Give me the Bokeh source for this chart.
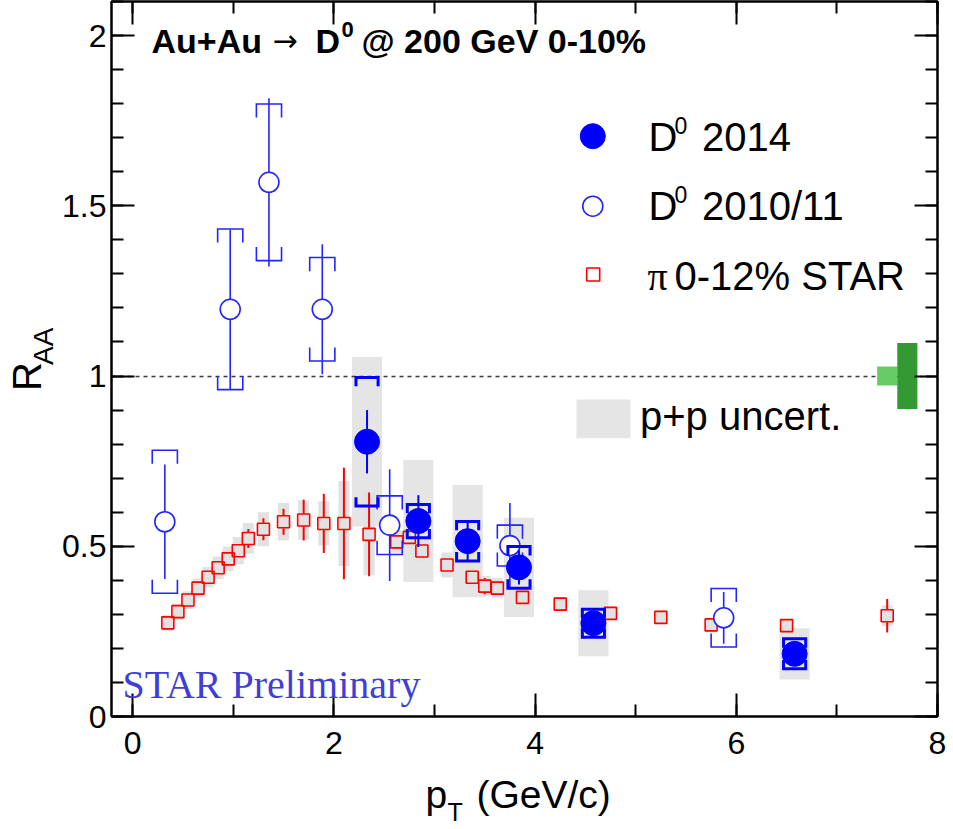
import math
import numpy as np
from bokeh.plotting import figure
from bokeh.layouts import row, column
from bokeh.models import (Range1d, LinearAxis, FixedTicker, Label,
                          CustomJSTickFormatter)
from bokeh.embed import file_html
from bokeh.resources import INLINE

# ---------------- data ----------------
# pi 0-12% STAR
pi_pt = [0.35, 0.45, 0.55, 0.65, 0.75, 0.85, 0.95, 1.05, 1.15, 1.3, 1.5, 1.7,
         1.9, 2.1, 2.35, 2.625, 2.75, 2.875, 3.125, 3.375, 3.5, 3.625, 3.875,
         4.25, 4.75, 5.25, 5.75, 6.5, 7.5]
pi_raa = [0.275, 0.308, 0.342, 0.377, 0.409, 0.437, 0.463, 0.487, 0.523, 0.550,
          0.572, 0.577, 0.567, 0.567, 0.535, 0.513, 0.526, 0.486, 0.445, 0.409,
          0.383, 0.377, 0.350, 0.330, 0.303, 0.291, 0.269, 0.267, 0.296]
pi_stat = [0.004, 0.004, 0.005, 0.005, 0.006, 0.006, 0.007, 0.010, 0.028, 0.032,
           0.038, 0.060, 0.087, 0.164, 0.123, 0.010, 0.010, 0.010, 0.010, 0.010,
           0.024, 0.010, 0.008, 0.008, 0.010, 0.010, 0.010, 0.017, 0.049]
pi_sys = [0.023, 0.024, 0.026, 0.028, 0.030, 0.033, 0.036, 0.040, 0.045, 0.050,
          0.055, 0.058, 0.065, 0.125, 0.120, 0.032, 0.030, 0.030, 0.037, 0.030,
          0.030, 0.030, 0.020, 0.020, 0.020, 0.020, 0.020, 0.020, 0.030]

# D0 2014
d14_pt = [2.33, 2.84, 3.33, 3.84, 4.58, 6.58]
d14_raa = [0.807, 0.574, 0.515, 0.438, 0.274, 0.184]
d14_stat = [0.093, 0.076, 0.060, 0.050, 0.030, 0.030]
d14_sys = [0.189, 0.049, 0.058, 0.061, 0.041, 0.044]
d14_pp = [0.249, 0.179, 0.165, 0.146, 0.097, 0.075]

# D0 2010/11
d11_pt = [0.32, 0.97, 1.355, 1.885, 2.555, 3.75, 5.875]
d11_raa = [0.572, 1.196, 1.569, 1.196, 0.562, 0.502, 0.290]
d11_stat = [0.168, 0.234, 0.247, 0.191, 0.164, 0.125, 0.076]
d11_sys = [0.210, 0.236, 0.230, 0.152, 0.086, 0.060, 0.086]

# normalisation uncertainties (Au+Au, p+p)
norm_auau = [0.028]
norm_pp = [0.097]

x_ticks = [0, 2, 4, 6, 8]
x_ticklabels = ["0", "2", "4", "6", "8"]
y_ticks = [0, 0.5, 1, 1.5, 2]
y_ticklabels = ["0", "0.5", "1", "1.5", "2"]

# ---------------- layout constants (page pixels) ----------------
W, H = 953, 829
LEFT_W = 58          # strip holding the y-axis title
BOTTOM_H = 60        # strip holding the x-axis title
FRAME_L, FRAME_R, FRAME_T, FRAME_B = 111, 937, 1, 716
X0, X1 = -0.21, 8.0
Y0, Y1 = 0.0, 2.1
BASE_K = 0.36        # Label baseline correction (fraction of font size)
ROT_SHIFT = 31       # correction along the reading direction of rotated labels

main_w = W - LEFT_W
main_h = H - BOTTOM_H

p = figure(width=main_w, height=main_h, output_backend="svg",
           toolbar_location=None,
           x_range=Range1d(X0, X1), y_range=Range1d(Y0, Y1),
           min_border_left=FRAME_L - LEFT_W, min_border_right=W - FRAME_R,
           min_border_top=FRAME_T, min_border_bottom=main_h - FRAME_B,
           x_axis_type=None, y_axis_type=None)
p.xgrid.visible = False
p.ygrid.visible = False
p.outline_line_color = "black"
p.outline_line_width = 2
p.background_fill_color = "white"
p.border_fill_color = "white"

x_minor = [float(i) for i in range(0, 9)]
y_minor = [round(0.1 * i, 1) for i in range(0, 22)]

def style_axis(ax, labels):
    ax.major_tick_in = 23
    ax.major_tick_out = 0
    ax.minor_tick_in = 12
    ax.minor_tick_out = 0
    ax.axis_line_width = 2
    ax.major_tick_line_width = 2
    ax.minor_tick_line_width = 2
    ax.axis_line_color = "black"
    ax.major_tick_line_color = "black"
    ax.minor_tick_line_color = "black"
    if labels:
        ax.major_label_text_font = "Liberation Sans"
        ax.major_label_text_font_size = "32px"
        ax.major_label_text_color = "black"
    else:
        ax.formatter = CustomJSTickFormatter(code="return ''")
        ax.major_label_text_font_size = "1px"
        ax.major_label_standoff = 0

xb = LinearAxis(ticker=FixedTicker(ticks=x_ticks, minor_ticks=x_minor))
style_axis(xb, True)
xb.major_label_overrides = {float(t): l for t, l in zip(x_ticks, x_ticklabels)}
xb.major_label_standoff = 15
p.add_layout(xb, "below")

yl = LinearAxis(ticker=FixedTicker(ticks=y_ticks, minor_ticks=y_minor))
style_axis(yl, True)
yl.major_label_overrides = {float(t): l for t, l in zip(y_ticks, y_ticklabels)}
yl.major_label_standoff = 5
p.add_layout(yl, "left")

xt = LinearAxis(ticker=FixedTicker(ticks=x_ticks, minor_ticks=x_minor))
style_axis(xt, False)
p.add_layout(xt, "above")

yr = LinearAxis(ticker=FixedTicker(ticks=y_ticks, minor_ticks=y_minor))
style_axis(yr, False)
p.add_layout(yr, "right")

# ---------------- helpers ----------------
XS = (FRAME_R - FRAME_L) / (X1 - X0)
YS = (FRAME_B - FRAME_T) / (Y1 - Y0)

def dx(px):
    return X0 + (px - FRAME_L) / XS

def dy(py):
    return Y0 + (FRAME_B - py) / YS

def mklabel(text, x, y, size, font, style, color, angle):
    return Label(x=x, y=y, text=text, text_font=font,
                 text_font_size=f"{size}px", text_font_style=style,
                 text_color=color, text_baseline="alphabetic",
                 text_align="left", angle=angle)

def plab(text, px, py, size, font="Liberation Sans", style="normal",
         color="black"):
    # px, py: page position of the text start on its baseline
    py = py - BASE_K * size
    p.add_layout(mklabel(text, dx(px), dy(py), size, font, style, color, 0.0))

def brackets(x, y, s, hw, leg, color, width):
    x = np.asarray(x, float); y = np.asarray(y, float); s = np.asarray(s, float)
    lg = np.minimum(leg, s)
    xs, ys = [], []
    for xi, yi, si, li in zip(x, y, s, lg):
        xs.append([xi - hw, xi - hw, xi + hw, xi + hw])
        ys.append([yi + si - li, yi + si, yi + si, yi + si - li])
        xs.append([xi - hw, xi - hw, xi + hw, xi + hw])
        ys.append([yi - si + li, yi - si, yi - si, yi - si + li])
    p.multi_line(xs=xs, ys=ys, line_color=color, line_width=width,
                 line_join="miter")

a = np.asarray
GRAY = "#e5e5e5"
BLUE = "#0000ff"
BLUE2 = "#2424ff"

# p+p uncertainty boxes (D0 2014)
p.quad(left=a(d14_pt) - 0.15, right=a(d14_pt) + 0.15,
       bottom=a(d14_raa) - a(d14_pp), top=a(d14_raa) + a(d14_pp),
       fill_color=GRAY, line_color=None)
# pion systematic boxes
p.quad(left=a(pi_pt) - 0.055, right=a(pi_pt) + 0.055,
       bottom=a(pi_raa) - a(pi_sys), top=a(pi_raa) + a(pi_sys),
       fill_color="#e2e2e2", line_color=None)

# unity line
p.hspan(y=[1.0], line_color="#3a3a3a", line_dash="4 4", line_width=1.5)

# normalisation boxes
p.quad(left=[7.40], right=[7.60], bottom=[1 - norm_auau[0]], top=[1 + norm_auau[0]],
       fill_color="#66cc66", line_color=None)
p.quad(left=[7.60], right=[7.80], bottom=[1 - norm_pp[0]], top=[1 + norm_pp[0]],
       fill_color="#339933", line_color=None)

# pions: error bars stop at the marker edge
gap = 6.5 / YS
pt_a, r_a, e_a = a(pi_pt), a(pi_raa), a(pi_stat)
m = e_a > gap
p.segment(x0=pt_a[m], y0=r_a[m] + gap, x1=pt_a[m], y1=r_a[m] + e_a[m],
          line_color="red", line_width=2)
p.segment(x0=pt_a[m], y0=r_a[m] - e_a[m], x1=pt_a[m], y1=r_a[m] - gap,
          line_color="red", line_width=2)
p.scatter(x=pi_pt, y=pi_raa, marker="square", size=12, fill_color=None,
          line_color="red", line_width=1.6)

# D0 2010/11
p.segment(x0=d11_pt, y0=a(d11_raa) - a(d11_stat), x1=d11_pt,
          y1=a(d11_raa) + a(d11_stat), line_color=BLUE2, line_width=1.6)
brackets(d11_pt, d11_raa, d11_sys, 0.125, 0.04, BLUE2, 1.6)
p.scatter(x=d11_pt, y=d11_raa, marker="circle", size=20, fill_color="white",
          line_color=BLUE2, line_width=1.6)

# D0 2014
p.segment(x0=d14_pt, y0=a(d14_raa) - a(d14_stat), x1=d14_pt,
          y1=a(d14_raa) + a(d14_stat), line_color=BLUE, line_width=2)
brackets(d14_pt, d14_raa, d14_sys, 0.11, 0.026, BLUE, 3)
p.scatter(x=d14_pt, y=d14_raa, marker="circle", size=25, fill_color=BLUE,
          line_color=BLUE, line_width=1)

# ---------------- legend ----------------
p.scatter(x=[dx(592.3)], y=[dy(135.7)], marker="circle", size=25,
          fill_color=BLUE, line_color=BLUE)
p.scatter(x=[dx(592.3)], y=[dy(205.7)], marker="circle", size=20,
          fill_color="white", line_color=BLUE2, line_width=1.6)
p.scatter(x=[dx(592.7)], y=[dy(274)], marker="square", size=13,
          fill_color=None, line_color="red", line_width=1.6)
p.quad(left=[dx(576)], right=[dx(630)], bottom=[dy(437.7)], top=[dy(399)],
       fill_color=GRAY, line_color=None)

LS = 40
plab("D", 648, 150.7, LS)
plab("0", 674, 133.3, 23)
plab("2014", 701.5, 150.7, LS)
plab("D", 648, 220, LS)
plab("0", 674, 202.6, 23)
plab("2010/11", 701.5, 220, LS)
plab("π", 647, 290, LS, font="Liberation Serif")
plab("0-12% STAR", 674, 290, LS)
plab("p+p uncert.", 639.5, 430, LS)

# title
plab("Au+Au", 151, 53, 34, style="bold")
plab("→", 272, 51, 30, font="DejaVu Sans")
plab("D", 315, 53, 34, style="bold")
plab("0", 341, 37, 22, style="bold")
plab("@ 200 GeV 0-10%", 361, 53, 34, style="bold")

# preliminary tag
plab("STAR Preliminary", 122, 698, 40, font="Liberation Serif", color="#3f3fd8")

# ---------------- axis-title strips ----------------
left = figure(width=LEFT_W, height=main_h, output_backend="svg",
              toolbar_location=None, x_range=Range1d(0, LEFT_W),
              y_range=Range1d(0, main_h), min_border=0,
              x_axis_type=None, y_axis_type=None)
left.outline_line_color = None
left.grid.visible = False

def llab(text, px, py, size):
    # rotated text reading upward; px = baseline x, py = text start (bottom)
    px = px - BASE_K * size
    py = py + ROT_SHIFT
    left.add_layout(mklabel(text, px, main_h - py, size, "Liberation Sans",
                            "normal", "black", math.pi / 2))

llab("R", 41, 388, 40)
llab("AA", 53, 360, 28)

bottom = figure(width=W, height=BOTTOM_H, output_backend="svg",
                toolbar_location=None, x_range=Range1d(0, W),
                y_range=Range1d(0, BOTTOM_H), min_border=0,
                x_axis_type=None, y_axis_type=None)
bottom.outline_line_color = None
bottom.grid.visible = False

def blab(text, px, py, size):
    py = py - BASE_K * size
    bottom.add_layout(mklabel(text, px, H - py, size, "Liberation Sans",
                              "normal", "black", 0.0))

blab("p", 425, 808, 39)
blab("T", 447, 820, 25)
blab("(GeV/c)", 476, 808, 39)

layout = column(row(left, p), bottom)
open("out.html", "w").write(file_html(layout, INLINE))
